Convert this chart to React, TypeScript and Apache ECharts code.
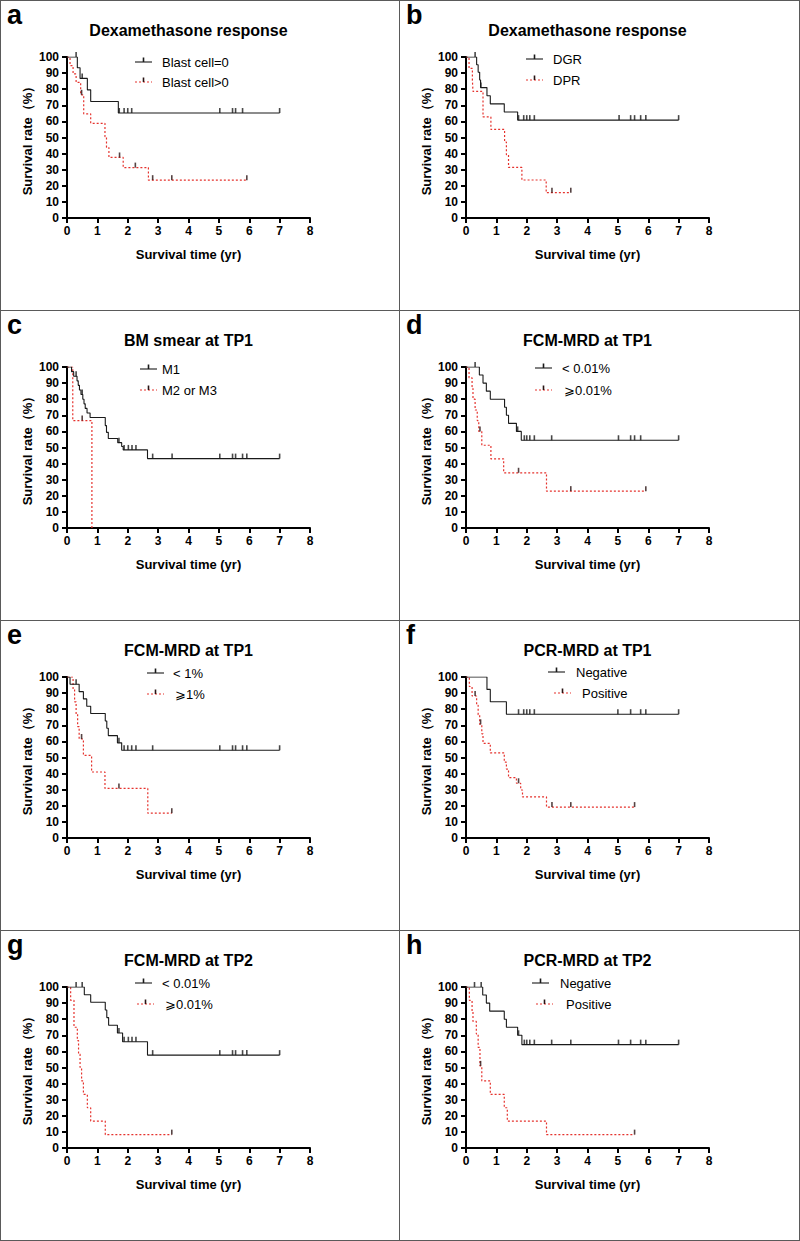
import React, { useEffect, useRef } from "react";
import * as echarts from "echarts";

const FONT = "'Liberation Sans', Arial, Helvetica, sans-serif";

// ---------- data (time in years, survival %) ----------
// a: Dexamethasone response (blast cell)
const aBlackT = [0, 0.34, 0.43, 0.67, 0.78, 1.69, 7.0];
const aBlackS = [100, 93.3, 86.7, 79.6, 72.4, 65.2, 65.2];
const aBlackC = [0.3, 0.5, 1.72, 1.88, 2.0, 2.13, 5.03, 5.45, 5.55, 5.78, 7.0];
const aRedT = [0, 0.1, 0.2, 0.3, 0.45, 0.55, 0.78, 1.25, 1.3, 1.38, 1.85, 2.68, 5.92];
const aRedS = [100, 94.7, 89.5, 84.2, 76.5, 64.7, 58.8, 50.5, 43.8, 37.6, 31.3, 23.5, 23.5];
const aRedC = [0.48, 1.73, 2.25, 2.82, 3.45, 5.92];

// b: Dexamethasone response (DGR / DPR)
const bBlackT = [0, 0.35, 0.4, 0.45, 0.48, 0.69, 0.8, 1.26, 1.7, 7.0];
const bBlackS = [100, 95.2, 90.5, 85.7, 81.0, 75.9, 70.9, 65.8, 60.8, 60.8];
const bBlackC = [0.3, 0.49, 1.73, 1.9, 2.0, 2.1, 2.25, 5.04, 5.42, 5.55, 5.75, 5.92, 7.0];
const bRedT = [0, 0.1, 0.21, 0.23, 0.56, 0.82, 1.27, 1.33, 1.4, 1.84, 2.64, 3.45];
const bRedS = [100, 92.9, 85.7, 78.6, 62.8, 55.0, 47.2, 39.3, 31.4, 23.6, 15.7, 15.7];
const bRedC = [2.83, 3.45];

// c: BM smear at TP1
const cBlackT = [0, 0.15, 0.22, 0.33, 0.37, 0.41, 0.46, 0.52, 0.56, 0.6, 0.66, 0.76, 1.26, 1.3, 1.36, 1.67, 1.8, 1.85, 2.65, 7.0];
const cBlackS = [100, 97.1, 94.3, 91.4, 88.6, 85.7, 82.9, 80.0, 77.1, 74.3, 71.4, 68.6, 63.6, 59.4, 55.6, 53.0, 50.6, 48.5, 43.1, 43.1];
const cBlackC = [0.3, 0.5, 1.71, 1.88, 2.02, 2.14, 2.27, 2.82, 3.46, 5.03, 5.45, 5.55, 5.78, 5.92, 7.0];
const cRedT = [0, 0.19, 0.82];
const cRedS = [100, 66.7, 0];
const cRedC = [0.5];

// d: FCM-MRD at TP1 (0.01%)
const dBlackT = [0, 0.44, 0.56, 0.67, 0.8, 1.27, 1.33, 1.4, 1.66, 1.82, 7.0];
const dBlackS = [100, 95, 90, 85, 80, 75, 70, 65, 60, 54.5, 54.5];
const dBlackC = [0.3, 1.7, 1.92, 2.0, 2.1, 2.25, 2.82, 5.02, 5.42, 5.55, 5.75, 7.0];
const dRedT = [0, 0.1, 0.2, 0.23, 0.3, 0.37, 0.42, 0.52, 0.82, 1.24, 2.65, 5.92];
const dRedS = [100, 93.3, 86.7, 80, 73.3, 66.7, 60, 51.4, 42.9, 34.3, 22.9, 22.9];
const dRedC = [0.46, 1.73, 3.45, 5.92];

// e: FCM-MRD at TP1 (1%)
const eBlackT = [0, 0.1, 0.4, 0.54, 0.65, 0.78, 1.26, 1.31, 1.36, 1.66, 1.8, 7.0];
const eBlackS = [100, 95.5, 90.9, 86.4, 81.8, 77.3, 72.7, 68.2, 63.6, 59.1, 54.5, 54.5];
const eBlackC = [0.3, 1.71, 1.88, 2.0, 2.13, 2.27, 2.82, 5.03, 5.45, 5.55, 5.78, 5.92, 7.0];
const eRedT = [0, 0.2, 0.25, 0.3, 0.35, 0.4, 0.54, 0.81, 1.25, 2.66, 3.45];
const eRedS = [100, 92.3, 84.6, 76.9, 69.2, 61.5, 51.3, 41.0, 30.8, 15.4, 15.4];
const eRedC = [0.48, 1.71, 3.45];

// f: PCR-MRD at TP1
const fBlackT = [0, 0.69, 0.8, 1.33, 7.0];
const fBlackS = [100, 92.3, 84.6, 76.9, 76.9];
const fBlackC = [1.73, 1.9, 2.0, 2.1, 2.25, 5.0, 5.42, 5.75, 5.92, 7.0];
const fRedT = [0, 0.11, 0.2, 0.35, 0.4, 0.45, 0.52, 0.56, 0.8, 1.26, 1.33, 1.4, 1.66, 1.8, 1.86, 2.65, 5.55];
const fRedS = [100, 94.1, 88.2, 82.4, 76.5, 70.6, 64.7, 58.8, 52.9, 47.1, 42.8, 37.5, 34.0, 29.8, 25.5, 19.2, 19.2];
const fRedC = [0.3, 0.48, 1.73, 2.83, 3.45, 5.55];

// g: FCM-MRD at TP2
const gBlackT = [0, 0.57, 0.78, 1.26, 1.31, 1.37, 1.66, 1.83, 2.65, 7.0];
const gBlackS = [100, 95.2, 90.5, 85.7, 81.0, 76.2, 71.4, 66.0, 57.7, 57.7];
const gBlackC = [0.3, 0.5, 1.71, 1.88, 2.02, 2.14, 2.27, 2.82, 5.03, 5.45, 5.55, 5.78, 5.92, 7.0];
const gRedT = [0, 0.12, 0.23, 0.34, 0.38, 0.43, 0.48, 0.54, 0.67, 0.78, 1.26, 3.45];
const gRedS = [100, 91.7, 75, 66.7, 58.3, 50, 41.7, 33.3, 25, 16.7, 8.3, 8.3];
const gRedC = [3.45];

// h: PCR-MRD at TP2
const hBlackT = [0, 0.55, 0.67, 0.78, 1.26, 1.33, 1.7, 1.84, 7.0];
const hBlackS = [100, 95, 90, 85, 80, 75, 70, 64.2, 64.2];
const hBlackC = [0.28, 0.5, 1.73, 1.92, 2.0, 2.1, 2.25, 2.82, 3.45, 5.02, 5.42, 5.75, 5.92, 7.0];
const hRedT = [0, 0.11, 0.2, 0.23, 0.34, 0.4, 0.46, 0.52, 0.8, 1.26, 1.36, 2.65, 5.55];
const hRedS = [100, 91.7, 85.0, 78.6, 70.8, 62.5, 51.0, 41.7, 33.3, 25, 16.7, 8.3, 8.3];
const hRedC = [0.48, 5.55];

const letters = ["a", "b", "c", "d", "e", "f", "g", "h"];
const titles = [
  "Dexamethasone response",
  "Dexamethasone response",
  "BM smear at TP1",
  "FCM-MRD at TP1",
  "FCM-MRD at TP1",
  "PCR-MRD at TP1",
  "FCM-MRD at TP2",
  "PCR-MRD at TP2",
];
const blackNames = ["Blast cell=0", "DGR", "M1", "< 0.01%", "< 1%", "Negative", "< 0.01%", "Negative"];
const redNames = ["Blast cell>0", "DPR", "M2 or M3", "⩾0.01%", "⩾1%", "Positive", "⩾0.01%", "Positive"];

const blackT = [aBlackT, bBlackT, cBlackT, dBlackT, eBlackT, fBlackT, gBlackT, hBlackT];
const blackS = [aBlackS, bBlackS, cBlackS, dBlackS, eBlackS, fBlackS, gBlackS, hBlackS];
const blackC = [aBlackC, bBlackC, cBlackC, dBlackC, eBlackC, fBlackC, gBlackC, hBlackC];
const redT = [aRedT, bRedT, cRedT, dRedT, eRedT, fRedT, gRedT, hRedT];
const redS = [aRedS, bRedS, cRedS, dRedS, eRedS, fRedS, gRedS, hRedS];
const redC = [aRedC, bRedC, cRedC, dRedC, eRedC, fRedC, gRedC, hRedC];

const xTicks = [0, 1, 2, 3, 4, 5, 6, 7, 8];
const yTicks = [0, 10, 20, 30, 40, 50, 60, 70, 80, 90, 100];

// ---------- layout ----------
const COL_X = [0, 399];
const ROW_Y = [0, 310, 620, 930];
const PLOT = { left: 67, top: 57, width: 243, height: 161 };
// legend layout per panel: icon x (row1,row2), text x (row1,row2), row y (row1,row2)
const LEG = [
  { ix: [135, 135], tx: [162, 162], y: [62, 82] },
  { ix: [127, 127], tx: [154, 154], y: [59, 80] },
  { ix: [140, 140], tx: [162, 162], y: [59, 80] },
  { ix: [136, 136], tx: [163, 165], y: [58, 80] },
  { ix: [147, 147], tx: [173, 175], y: [53, 74] },
  { ix: [149, 155], tx: [177, 183], y: [52, 73] },
  { ix: [135, 137], tx: [162, 165], y: [53, 74] },
  { ix: [133, 137], tx: [161, 167], y: [53, 74] },
];

const BLACK = "#1a1a1a";
const RED = "#e5322d";
const BORDER = "#5a5a5a";

function stepAt(T: number[], S: number[], t: number): number {
  let v = S[0];
  for (let i = 0; i < T.length; i++) {
    if (T[i] <= t + 1e-9) v = S[i];
  }
  return v;
}

function buildOption() {
  const grid: any[] = [];
  const xAxis: any[] = [];
  const yAxis: any[] = [];
  const series: any[] = [];
  const graphic: any[] = [];

  // borders
  const W = 800;
  const H = 1241;
  const hl = (y: number) => ({
    type: "line",
    silent: true,
    shape: { x1: 0, y1: y, x2: W, y2: y },
    style: { stroke: BORDER, lineWidth: 1 },
  });
  const vl = (x: number) => ({
    type: "line",
    silent: true,
    shape: { x1: x, y1: 0, x2: x, y2: H },
    style: { stroke: BORDER, lineWidth: 1 },
  });
  graphic.push(hl(0.5), hl(310.5), hl(620.5), hl(930.5), hl(1240.5));
  graphic.push(vl(0.5), vl(399.5), vl(799.5));

  for (let i = 0; i < 8; i++) {
    const ox = COL_X[i % 2];
    const oy = ROW_Y[Math.floor(i / 2)];
    grid.push({
      left: ox + PLOT.left,
      top: oy + PLOT.top,
      width: PLOT.width,
      height: PLOT.height,
      containLabel: false,
    });
    const axisCommon = {
      gridIndex: i,
      type: "value",
      axisLine: { show: true, onZero: false, lineStyle: { color: "#000", width: 2 } },
      axisTick: { show: true, length: 5, lineStyle: { color: "#000", width: 2 } },
      splitLine: { show: false },
      nameLocation: "middle",
      nameTextStyle: { fontFamily: FONT, fontWeight: "bold", fontSize: 13, color: "#000" },
    };
    xAxis.push({
      ...axisCommon,
      min: xTicks[0],
      max: xTicks[xTicks.length - 1],
      interval: 1,
      name: "Survival time (yr)",
      nameGap: 30,
      axisLabel: { fontFamily: FONT, fontWeight: "bold", fontSize: 12, color: "#000", margin: 7 },
    });
    yAxis.push({
      ...axisCommon,
      min: yTicks[0],
      max: yTicks[yTicks.length - 1],
      interval: 10,
      name: "Survival rate（%）",
      nameGap: 33,
      axisLabel: { fontFamily: FONT, fontWeight: "bold", fontSize: 12, color: "#000", margin: 8 },
    });

    series.push({
      type: "line",
      name: redNames[i],
      xAxisIndex: i,
      yAxisIndex: i,
      step: "end",
      symbol: "none",
      silent: true,
      lineStyle: { color: RED, width: 1.2, type: [2, 2] },
      data: redT[i].map((t, k) => [t, redS[i][k]]),
      z: 2,
    });
    series.push({
      type: "line",
      name: blackNames[i],
      xAxisIndex: i,
      yAxisIndex: i,
      step: "end",
      symbol: "none",
      silent: true,
      lineStyle: { color: BLACK, width: 1.1 },
      data: blackT[i].map((t, k) => [t, blackS[i][k]]),
      z: 3,
    });
    series.push({
      type: "scatter",
      name: "censor-red-" + i,
      xAxisIndex: i,
      yAxisIndex: i,
      symbol: "rect",
      symbolSize: [1.6, 5],
      symbolOffset: [0, -2.5],
      silent: true,
      itemStyle: { color: "#2a1414" },
      data: redC[i].map((t) => [t, stepAt(redT[i], redS[i], t)]),
      z: 4,
    });
    series.push({
      type: "scatter",
      name: "censor-black-" + i,
      xAxisIndex: i,
      yAxisIndex: i,
      symbol: "rect",
      symbolSize: [1.6, 5],
      symbolOffset: [0, -2.5],
      silent: true,
      itemStyle: { color: BLACK },
      data: blackC[i].map((t) => [t, stepAt(blackT[i], blackS[i], t)]),
      z: 4,
    });

    // panel letter
    graphic.push({
      type: "text",
      silent: true,
      x: ox + 7,
      y: oy + 15,
      style: {
        text: letters[i],
        font: `bold 27px ${FONT}`,
        fill: "#000",
        textAlign: "left",
        textVerticalAlign: "middle",
      },
    });
    // title
    graphic.push({
      type: "text",
      silent: true,
      x: ox + PLOT.left + PLOT.width / 2,
      y: oy + 30,
      style: {
        text: titles[i],
        font: `bold 16px ${FONT}`,
        fill: "#000",
        textAlign: "center",
        textVerticalAlign: "middle",
      },
    });
    // legend
    const L = LEG[i];
    const items = [
      { name: blackNames[i], color: BLACK, dash: null as any, tick: BLACK },
      { name: redNames[i], color: RED, dash: [2, 2], tick: "#2a1414" },
    ];
    items.forEach((it, r) => {
      const lx = ox + L.ix[r];
      const ly = oy + L.y[r];
      graphic.push({
        type: "line",
        silent: true,
        shape: { x1: lx, y1: ly, x2: lx + 17, y2: ly },
        style: { stroke: it.color, lineWidth: it.dash ? 1.2 : 1.1, lineDash: it.dash },
      });
      graphic.push({
        type: "rect",
        silent: true,
        shape: { x: lx + 7.7, y: ly - 4.5, width: 1.6, height: 4.5 },
        style: { fill: it.tick },
      });
      graphic.push({
        type: "text",
        silent: true,
        x: ox + L.tx[r],
        y: ly,
        style: {
          text: it.name,
          font: `13px ${FONT}`,
          fill: "#000",
          textAlign: "left",
          textVerticalAlign: "middle",
        },
      });
    });
  }

  return {
    animation: false,
    backgroundColor: "#fff",
    grid,
    xAxis,
    yAxis,
    series,
    graphic,
  };
}

export default function App() {
  const ref = useRef<HTMLDivElement>(null);
  useEffect(() => {
    document.body.style.margin = "0";
    if (!ref.current) return;
    const chart = echarts.init(ref.current, undefined, { renderer: "svg" });
    chart.setOption(buildOption() as any);
    return () => {
      chart.dispose();
    };
  }, []);
  return <div ref={ref} style={{ width: 800, height: 1241, background: "#fff" }} />;
}
